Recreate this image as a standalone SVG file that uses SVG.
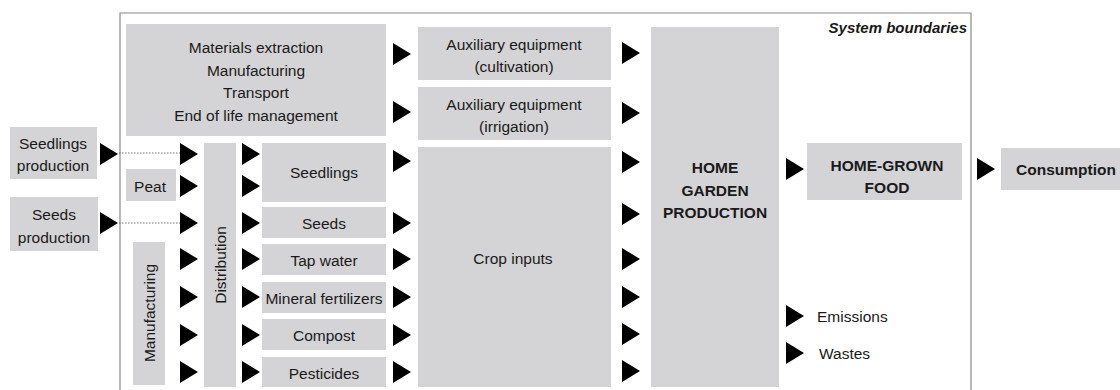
<svg xmlns="http://www.w3.org/2000/svg" xmlns:xlink="http://www.w3.org/1999/xlink" width="1120" height="390" viewBox="0 0 1120 390">
<style>
.box{fill:#d4d3d5;}
.t{font-family:"Liberation Sans",Arial,sans-serif;font-size:15.5px;fill:#1a1a1a;text-anchor:middle;dominant-baseline:central;}
.b{font-weight:bold;}
.arr{fill:#000;}
.dot{stroke:#777;stroke-width:1;stroke-dasharray:1.5 1.5;fill:none;}
</style>
<defs>
<path id="tri" d="M0,-11 L18,0 L0,11 Z"/>
</defs>
<rect width="1120" height="390" fill="#fff"/>
<g id="system-boundary">
<path d="M120,392 L120,13 L971,13 L971,392" fill="none" stroke="#8a8a8a" stroke-width="1.2"/>
<text x="967" y="27" class="t b" style="font-style:italic;text-anchor:end;font-size:15px">System boundaries</text>
</g>
<g id="n-materials"><rect class="box" x="126" y="24" width="260" height="112"/>
<text class="t" x="256" y="47">Materials extraction</text>
<text class="t" x="256" y="70">Manufacturing</text>
<text class="t" x="256" y="92">Transport</text>
<text class="t" x="256" y="115">End of life management</text></g>
<g id="n-seedlings-production"><rect class="box" x="10" y="127" width="87" height="52"/>
<text class="t" x="53" y="143">Seedlings</text><text class="t" x="53" y="165">production</text></g>
<g id="n-seeds-production"><rect class="box" x="10" y="197" width="88" height="54"/>
<text class="t" x="54" y="214">Seeds</text><text class="t" x="54" y="237">production</text></g>
<g id="n-peat"><rect class="box" x="126" y="169" width="50" height="32"/>
<text class="t" x="150" y="186">Peat</text></g>
<g id="n-manufacturing"><rect class="box" x="133" y="242" width="32" height="143"/>
<text class="t" transform="translate(149,313) rotate(-90)" x="0" y="0">Manufacturing</text></g>
<g id="n-distribution"><rect class="box" x="204" y="143" width="32" height="244"/>
<text class="t" transform="translate(220,265) rotate(-90)" x="0" y="0">Distribution</text></g>
<g id="n-seedlings"><rect class="box" x="262" y="143" width="124" height="59"/><text class="t" x="324" y="172">Seedlings</text></g>
<g id="n-seeds"><rect class="box" x="262" y="207" width="124" height="31"/><text class="t" x="324" y="223">Seeds</text></g>
<g id="n-tapwater"><rect class="box" x="262" y="244" width="124" height="31"/><text class="t" x="324" y="260">Tap water</text></g>
<g id="n-mineral"><rect class="box" x="262" y="282" width="124" height="31"/><text class="t" x="324" y="298">Mineral fertilizers</text></g>
<g id="n-compost"><rect class="box" x="262" y="319" width="124" height="31"/><text class="t" x="324" y="335">Compost</text></g>
<g id="n-pesticides"><rect class="box" x="262" y="357" width="124" height="30"/><text class="t" x="324" y="373">Pesticides</text></g>
<g id="n-aux-cult"><rect class="box" x="418" y="27" width="193" height="53"/>
<text class="t" x="514" y="44">Auxiliary equipment</text><text class="t" x="514" y="66">(cultivation)</text></g>
<g id="n-aux-irr"><rect class="box" x="418" y="87" width="193" height="53"/>
<text class="t" x="514" y="104">Auxiliary equipment</text><text class="t" x="514" y="126">(irrigation)</text></g>
<g id="n-crop"><rect class="box" x="418" y="147" width="193" height="240"/>
<text class="t" x="513" y="258">Crop inputs</text></g>
<g id="n-hgp"><rect class="box" x="651" y="27" width="128" height="360"/>
<text class="t b" x="715" y="167">HOME</text><text class="t b" x="715" y="190">GARDEN</text><text class="t b" x="715" y="212">PRODUCTION</text></g>
<g id="n-hgf"><rect class="box" x="807" y="143" width="155" height="57"/>
<text class="t b" x="887" y="165">HOME-GROWN</text><text class="t b" x="887" y="187">FOOD</text></g>
<g id="n-consumption"><rect class="box" x="1001" y="148" width="119" height="42"/>
<text class="t b" x="1066" y="169">Consumption</text></g>
<g id="n-emissions"><text class="t" x="817" y="316" style="text-anchor:start">Emissions</text></g>
<g id="n-wastes"><text class="t" x="819" y="353" style="text-anchor:start">Wastes</text></g>
<g id="connectors">
<line class="dot" x1="119" y1="153" x2="180" y2="153"/>
<line class="dot" x1="119" y1="223" x2="180" y2="223"/>
<g class="arr">
<use xlink:href="#tri" x="100" y="154"/><use xlink:href="#tri" x="100" y="223"/>
<use xlink:href="#tri" x="180" y="154"/><use xlink:href="#tri" x="180" y="186"/><use xlink:href="#tri" x="180" y="223"/><use xlink:href="#tri" x="180" y="259"/><use xlink:href="#tri" x="180" y="297"/><use xlink:href="#tri" x="180" y="335"/><use xlink:href="#tri" x="180" y="372"/>
<use xlink:href="#tri" x="242" y="154"/><use xlink:href="#tri" x="242" y="186"/><use xlink:href="#tri" x="242" y="223"/><use xlink:href="#tri" x="242" y="259"/><use xlink:href="#tri" x="242" y="297"/><use xlink:href="#tri" x="242" y="335"/><use xlink:href="#tri" x="242" y="372"/>
<use xlink:href="#tri" x="393" y="54"/><use xlink:href="#tri" x="393" y="112"/><use xlink:href="#tri" x="393" y="161"/><use xlink:href="#tri" x="393" y="223"/><use xlink:href="#tri" x="393" y="259"/><use xlink:href="#tri" x="393" y="297"/><use xlink:href="#tri" x="393" y="335"/><use xlink:href="#tri" x="393" y="372"/>
<use xlink:href="#tri" x="622" y="53"/><use xlink:href="#tri" x="622" y="113"/><use xlink:href="#tri" x="622" y="162"/><use xlink:href="#tri" x="622" y="214"/><use xlink:href="#tri" x="622" y="259"/><use xlink:href="#tri" x="622" y="297"/><use xlink:href="#tri" x="622" y="334"/><use xlink:href="#tri" x="622" y="371"/>
<use xlink:href="#tri" x="786" y="169"/><use xlink:href="#tri" x="786" y="316"/><use xlink:href="#tri" x="786" y="353"/>
<use xlink:href="#tri" x="977" y="169"/>
</g>
</g>
</svg>
